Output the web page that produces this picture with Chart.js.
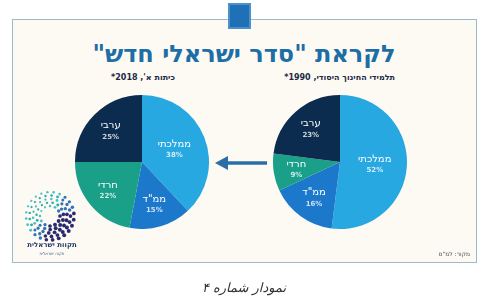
<!DOCTYPE html>
<html>
<head>
<meta charset="utf-8">
<script src="https://cdn.jsdelivr.net/npm/chart.js@4"></script>
<style>
  html, body { margin: 0; padding: 0; background: #fff; }
  body { width: 488px; height: 303px; position: relative; overflow: hidden; font-family: "DejaVu Sans", sans-serif; }
  .abs { position: absolute; }
  #frame { left: 12px; top: 19px; width: 465px; height: 244px; box-sizing: border-box;
           border: 1px solid #9dbacb; background: #fdfaf4; }
  #emblem { left: 228px; top: 3px; width: 23px; height: 26px; background: #1f70b6; box-sizing: border-box;
            border: 2px solid #4d91cb; }
  #title { left: 0; width: 488px; top: 40px; text-align: center; font-weight: bold; font-size: 24px;
           color: #1d6ea6; direction: rtl; }
  .sub { top: 73px; font-size: 8px; font-weight: bold; color: #1c2b45; direction: rtl; text-align: right; width: 200px; }
  #src { right: 18px; top: 250px; font-size: 6px; color: #555; direction: rtl; }
  #caption { left: 0; width: 488px; top: 280px; text-align: center; font-size: 13px; font-style: italic; color: #333; direction: rtl; }
  #logoText { left: 12px; width: 80px; top: 241px; text-align: center; font-size: 7px; font-weight: bold; color: #243a6b; direction: rtl; }
  #logoSub { left: 12px; width: 80px; top: 251px; text-align: center; font-size: 4px; color: #3b5a8a; direction: rtl; }
</style>
</head>
<body>
<div id="frame" class="abs"></div>
<div id="emblem" class="abs"></div>
<div id="title" class="abs">לקראת "סדר ישראלי חדש"</div>
<div class="abs sub" style="left: -25px;">כיתות א', 2018*</div>
<div class="abs sub" style="left: 195px;">תלמידי החינוך היסודי, 1990*</div>
<canvas id="pie2018" class="abs" width="134" height="134" style="left:75px; top:95px;"></canvas>
<canvas id="pie1990" class="abs" width="134" height="134" style="left:273px; top:95px;"></canvas>
<svg class="abs" style="left:0; top:0;" width="488" height="303">
  <line x1="267" y1="163" x2="224" y2="163" stroke="#2b6ea6" stroke-width="3.5"/>
  <polygon points="215,163 228,156 228,170" fill="#2b6ea6"/>
</svg>
<canvas id="logo" class="abs" width="70" height="60" style="left:15px; top:186px;"></canvas>
<div id="logoText" class="abs">תקוות ישראלית</div>
<div id="logoSub" class="abs">תקוה ישראלית</div>
<div id="src" class="abs">מקור: למ"ס</div>
<div id="caption" class="abs">نمودار شماره ۴</div>

<script>
const categories = ['ממלכתי', 'ממ"ד', 'חרדי', 'ערבי'];
const values1990 = [52, 16, 9, 23];
const values2018 = [38, 15, 22, 25];
const sliceColors = ['#27a8e0', '#1b78cb', '#1aa089', '#0c2c4f'];

// names and percents written inside each slice
const sliceLabels = {
    id: 'sliceLabels',
    afterDatasetsDraw(chart) {
        let ctx = chart.ctx;
        let data = chart.data.datasets[0].data;
        chart.getDatasetMeta(0).data.forEach((arc, i) => {
            let p = arc.getProps(['startAngle', 'endAngle', 'outerRadius', 'x', 'y'], true);
            let mid = (p.startAngle + p.endAngle) / 2;
            let r = p.outerRadius * (data[i] > 35 ? 0.52 : 0.66);
            let x = p.x + Math.cos(mid) * r;
            let y = p.y + Math.sin(mid) * r;
            ctx.save();
            ctx.textAlign = 'center';
            ctx.textBaseline = 'middle';
            ctx.fillStyle = '#ffffff';
            ctx.font = '10px "DejaVu Sans"';
            ctx.fillText(chart.data.labels[i], x, y - 5);
            ctx.fillStyle = 'rgba(255,255,255,0.78)';
            ctx.font = 'bold 7px "DejaVu Sans"';
            ctx.fillText(data[i] + '%', x, y + 6);
            ctx.restore();
        });
    }
};

function createPie(id, values) {
    new Chart(document.getElementById(id), {
        type: 'pie',
        data: {
            labels: categories,
            datasets: [{ data: values, backgroundColor: sliceColors, borderWidth: 0 }]
        },
        options: {
            responsive: false,
            animation: false,
            layout: { padding: 0 },
            plugins: { legend: { display: false }, tooltip: { enabled: false } }
        },
        plugins: [sliceLabels]
    });
}

createPie('pie2018', values2018);
createPie('pie1990', values1990);

// dotted ring logo
(function () {
    let ctx = document.getElementById('logo').getContext('2d');
    let cx = 35, cy = 30;
    for (let ring = 0; ring < 5; ring++) {
        let rad = 10 + ring * 3.5;
        let n = 12 + ring * 3;
        for (let k = 0; k < n; k++) {
            let a = k / n * Math.PI * 2 + ring * 0.3;
            let t = (Math.sin(a + 0.8) + 1) / 2; // 0 = top-left, 1 = bottom-right
            let col = t < 0.45 ? (ring % 2 ? '#25ad9f' : '#46bfd0') : (t < 0.75 ? '#2f73b8' : '#2a2a6e');
            ctx.fillStyle = col;
            ctx.beginPath();
            ctx.arc(cx + Math.cos(a) * rad, cy + Math.sin(a) * rad, 1.1 + t * 0.9, 0, Math.PI * 2);
            ctx.fill();
        }
    }
})();
</script>
</body>
</html>
